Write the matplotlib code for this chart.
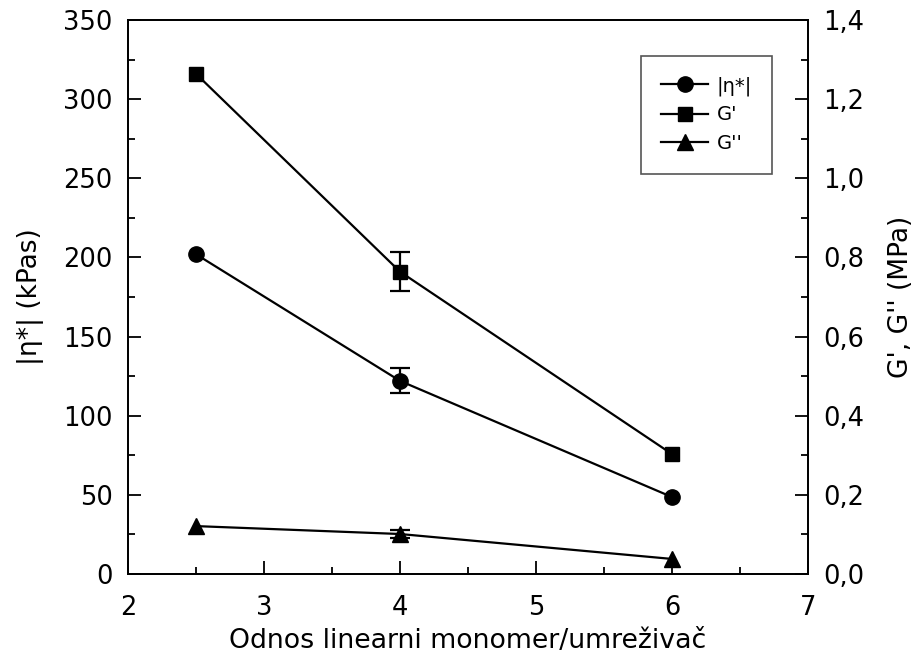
import matplotlib
matplotlib.use('Agg')
import matplotlib.pyplot as plt
from matplotlib.ticker import MultipleLocator, FuncFormatter
from matplotlib.lines import Line2D

plt.rcParams['font.family'] = ['DejaVu Sans']

# data
ratio = [2.5, 4, 6]
eta = [202, 122, 48.6]          # kPas
eta_err = [0, 7.9, 0]
g1 = [1.264, 0.764, 0.303]      # G' MPa
g1_err = [0, 0.05, 0]
g2 = [0.121, 0.101, 0.038]      # G'' MPa
g2_err = [0, 0.01, 0]

fig = plt.figure(figsize=(9.16, 6.55), dpi=100)
ax = fig.add_axes([0.1397, 0.1237, 0.7424, 0.8458])
ax2 = ax.twinx()

lw = 1.6
ms = 11
cap = 7


def series(a, ys, errs, marker, size):
    a.plot(ratio, ys, color='k', marker=marker, ms=size, lw=lw)
    # only draw bars where there is an error value
    ex = [x for x, e in zip(ratio, errs) if e > 0]
    ey = [y for y, e in zip(ys, errs) if e > 0]
    ee = [e for e in errs if e > 0]
    a.errorbar(ex, ey, yerr=ee, fmt='none', ecolor='k', capsize=cap,
               capthick=lw, elinewidth=lw)


series(ax, eta, eta_err, 'o', ms)
series(ax2, g1, g1_err, 's', ms - 1)
series(ax2, g2, g2_err, '^', ms)

ax.set_xlim(2, 7)
ax.set_ylim(0, 350)
ax2.set_ylim(0, 1.4)

ax.xaxis.set_major_locator(MultipleLocator(1))
ax.xaxis.set_minor_locator(MultipleLocator(0.5))
ax.yaxis.set_major_locator(MultipleLocator(50))
ax.yaxis.set_minor_locator(MultipleLocator(25))
ax2.yaxis.set_major_locator(MultipleLocator(0.2))
ax2.yaxis.set_minor_locator(MultipleLocator(0.1))
ax2.yaxis.set_major_formatter(FuncFormatter(lambda v, p: f'{v:.1f}'.replace('.', ',')))

for a in (ax, ax2):
    a.tick_params(which='major', direction='in', length=9.5, width=1.3, labelsize=18.5, pad=11)
    a.tick_params(which='minor', direction='in', length=5, width=1.3)
    for s in a.spines.values():
        s.set_linewidth(1.3)
ax.tick_params(axis='x', which='major', pad=15)
ax.tick_params(axis='y', which='both', right=False)
ax.tick_params(axis='x', which='both', top=False)

ax.set_xlabel('Odnos linearni monomer/umreživač', fontsize=19.3, labelpad=5)
ax.set_ylabel('|η*| (kPas)', fontsize=19, labelpad=14)
ax2.set_ylabel("G', G'' (MPa)", fontsize=19, labelpad=17)

handles = [
    Line2D([], [], color='k', marker='o', ms=ms, lw=lw),
    Line2D([], [], color='k', marker='s', ms=ms - 1, lw=lw),
    Line2D([], [], color='k', marker='^', ms=ms, lw=lw),
]
leg = ax2.legend(handles, ['|η*|', "G'", "G''"], loc='upper right',
                 bbox_to_anchor=(0.962, 0.953), fontsize=14, handlelength=2.4,
                 borderpad=1.05, labelspacing=0.5, handletextpad=0.45,
                 fancybox=False, framealpha=1, edgecolor='#555555')
leg.get_frame().set_linewidth(1.2)

fig.savefig('out.png', dpi=100)
